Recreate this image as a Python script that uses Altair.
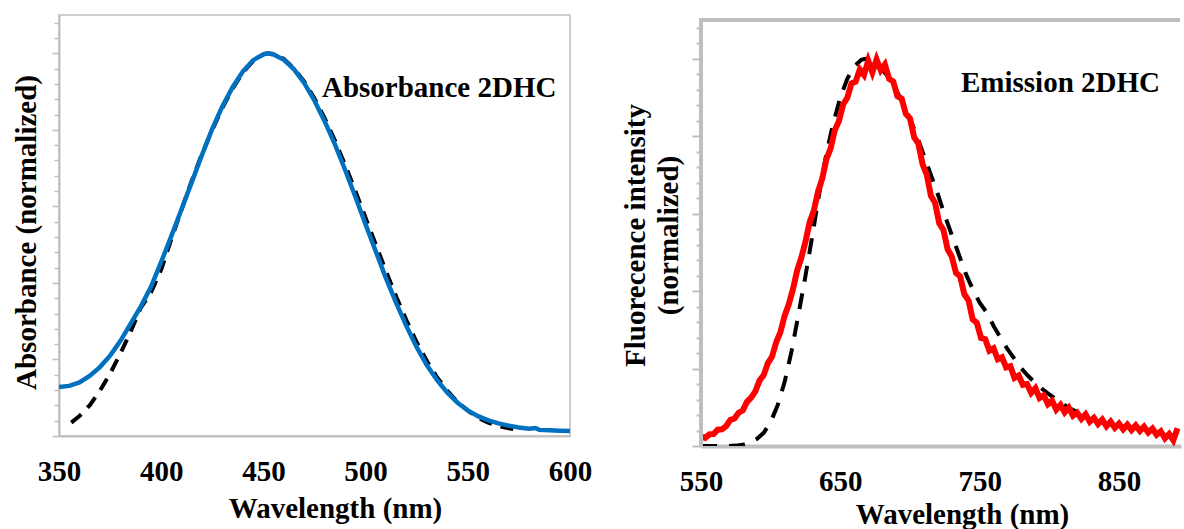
import altair as alt
import pandas as pd

FONT = "Liberation Serif"
GRAY = "#BFBFBF"

# ---------------- Left panel: absorbance ----------------
abs_wl = [350, 355, 360, 365, 370, 375, 380, 385, 390, 395, 400, 405, 410, 415, 420, 425,
          430, 435, 440, 445, 450, 452, 455, 460, 465, 470, 475, 480, 485, 490, 495, 500,
          505, 510, 515, 520, 525, 530, 535, 540, 545, 550, 555, 560, 565, 570, 575, 580,
          583, 585, 590, 595, 600]
abs_val = [0.128, 0.131, 0.140, 0.157, 0.180, 0.210, 0.248, 0.293, 0.338, 0.390, 0.455, 0.523,
           0.593, 0.664, 0.735, 0.803, 0.862, 0.912, 0.953, 0.982, 0.997, 1.000, 0.997, 0.983,
           0.958, 0.922, 0.876, 0.822, 0.762, 0.695, 0.625, 0.553, 0.482, 0.412, 0.347, 0.287,
           0.232, 0.185, 0.146, 0.113, 0.087, 0.067, 0.052, 0.041, 0.033, 0.027, 0.022, 0.019,
           0.021, 0.016, 0.015, 0.014, 0.013]

fitA_wl = [356, 360, 365, 370, 375, 380, 385, 390, 395, 400, 405, 410, 415, 420, 425, 430,
           435, 440, 445, 450, 452, 455, 460, 465, 470, 475, 480, 485, 490, 495, 500, 505,
           510, 515, 520, 525, 530, 535, 540, 545, 550, 555, 560, 565, 570, 575]
fitA_val = [0.035, 0.052, 0.080, 0.118, 0.163, 0.215, 0.272, 0.335, 0.375, 0.435, 0.515, 0.592,
            0.668, 0.738, 0.800, 0.858, 0.908, 0.950, 0.980, 0.997, 1.000, 0.998, 0.985, 0.960,
            0.926, 0.882, 0.830, 0.772, 0.708, 0.640, 0.570, 0.500, 0.430, 0.364, 0.302, 0.245,
            0.196, 0.153, 0.118, 0.089, 0.066, 0.048, 0.035, 0.026, 0.020, 0.016]

# ---------------- Right panel: emission ----------------
em_wl = list(range(550, 893, 3))
em_val = [0.024, 0.021, 0.030, 0.031, 0.042, 0.043, 0.051, 0.067, 0.071, 0.086,
          0.092, 0.114, 0.125, 0.141, 0.169, 0.183, 0.214, 0.231, 0.268, 0.294,
          0.336, 0.366, 0.405, 0.453, 0.486, 0.528, 0.578, 0.608, 0.657, 0.690,
          0.741, 0.768, 0.815, 0.839, 0.882, 0.899, 0.936, 0.941, 0.972, 0.958,
          0.995, 0.965, 0.998, 0.970, 0.985, 0.948, 0.941, 0.903, 0.897, 0.858,
          0.846, 0.797, 0.781, 0.728, 0.701, 0.646, 0.628, 0.575, 0.558, 0.508,
          0.489, 0.447, 0.438, 0.392, 0.376, 0.327, 0.318, 0.279, 0.276, 0.246,
          0.252, 0.224, 0.229, 0.203, 0.206, 0.176, 0.182, 0.158, 0.160, 0.137,
          0.149, 0.124, 0.131, 0.108, 0.117, 0.094, 0.106, 0.087, 0.099, 0.078,
          0.086, 0.070, 0.082, 0.063, 0.073, 0.057, 0.068, 0.051, 0.063, 0.047,
          0.058, 0.043, 0.055, 0.041, 0.053, 0.039, 0.050, 0.035, 0.045, 0.029,
          0.038, 0.020, 0.031, 0.015, 0.046]

fitE_wl = [550, 555, 560, 565, 570, 575, 580, 585, 590, 595, 600, 605, 610, 615, 620, 625,
           630, 635, 640, 645, 650, 655, 660, 665, 668, 670, 675, 680, 685, 690, 695, 700,
           705, 710, 715, 720, 725, 730, 735, 740, 745, 750, 755, 760, 765, 770, 775, 780,
           785, 790, 795, 800, 805, 810, 815, 820, 825]
fitE_val = [0.0, 0.0, 0.0, 0.0, 0.0, 0.001, 0.003, 0.008, 0.018, 0.034, 0.062, 0.105, 0.165,
            0.245, 0.340, 0.440, 0.545, 0.655, 0.755, 0.835, 0.900, 0.948, 0.980, 0.997, 1.000,
            0.998, 0.990, 0.972, 0.950, 0.920, 0.885, 0.845, 0.800, 0.750, 0.700, 0.650, 0.595,
            0.545, 0.495, 0.445, 0.405, 0.370, 0.345, 0.310, 0.280, 0.250, 0.225, 0.200, 0.180,
            0.163, 0.147, 0.133, 0.120, 0.108, 0.097, 0.088, 0.080]

# axis tick values / labels
y_ticks = [0, 0.04, 0.08, 0.12, 0.16, 0.2, 0.24, 0.28, 0.32, 0.36, 0.4, 0.44, 0.48, 0.52,
           0.56, 0.6, 0.64, 0.68, 0.72, 0.76, 0.8, 0.84, 0.88, 0.92, 0.96, 1.0, 1.04, 1.08]
xA_ticks = [350, 400, 450, 500, 550, 600]
xE_ticks = [550, 650, 750, 850]

annA = {"wl": [536], "val": [0.886], "t": ["Absorbance 2DHC"]}
annE = {"wl": [808], "val": [0.915], "t": ["Emission 2DHC"]}


def tick_size(major, minor):
    return {"condition": {"test": "abs(datum.value*5 - round(datum.value*5)) < 0.001",
                          "value": major}, "value": minor}


txt = dict(font=FONT, fontSize=29, fontWeight="bold", color="black")

# ---------- left chart ----------
WL, HL = 511, 421
xA = alt.X("wl:Q", scale=alt.Scale(domain=[350, 600], nice=False, zero=False),
           axis=alt.Axis(values=xA_ticks, ticks=False, tickSize=0, grid=False,
                         domainColor=GRAY, domainWidth=2,
                         labelFont=FONT, labelFontSize=29, labelFontWeight="bold",
                         labelColor="black", labelPadding=21, labelFlush=False,
                         title="Wavelength (nm)", titleFont=FONT, titleFontSize=29,
                         titleFontWeight="bold", titleColor="black",
                         titleX=276, titleY=81, titleAlign="center",
                         titleBaseline="alphabetic"))
yA = alt.Y("val:Q", scale=alt.Scale(domain=[0, 1.1], nice=False, zero=False),
           axis=alt.Axis(values=y_ticks, labels=False, grid=False,
                         domainColor=GRAY, domainWidth=2, tickColor=GRAY, tickWidth=1.5,
                         tickSize=tick_size(7, 5),
                         title="Absorbance (normalized)", titleFont=FONT, titleFontSize=29,
                         titleFontWeight="bold", titleColor="black", titleAngle=270,
                         titleX=-33, titleY=217, titleAlign="center",
                         titleBaseline="middle"))

fitA_line = alt.Chart(pd.DataFrame({"wl": fitA_wl, "val": fitA_val})).mark_line(
    color="black", strokeWidth=4, strokeDash=[13, 9], clip=True).encode(x=xA, y=yA)
abs_line = alt.Chart(pd.DataFrame({"wl": abs_wl, "val": abs_val})).mark_line(
    color="#0070C0", strokeWidth=4.5, clip=True).encode(x=xA, y=yA)
annA_t = alt.Chart(pd.DataFrame(annA)).mark_text(
    align="center", baseline="alphabetic", **txt).encode(x=xA, y=yA, text="t:N")

left = alt.layer(fitA_line, abs_line, annA_t).properties(
    width=WL, height=HL,
    view=alt.ViewBackground(stroke=GRAY, strokeWidth=1.5))

# ---------- right chart ----------
# plot frame starts 5 px below the top of the group; y scale keeps 1.1 at that frame line
WR, HR, TOP = 480, 431, 5
ymaxE = 1.1 * HR / (HR - TOP)
xE = alt.X("wl:Q", scale=alt.Scale(domain=[550, 550 + WR / 1.3933], nice=False, zero=False),
           axis=alt.Axis(values=xE_ticks, ticks=False, tickSize=0, grid=False,
                         domainColor=GRAY, domainWidth=4,
                         labelFont=FONT, labelFontSize=29, labelFontWeight="bold",
                         labelColor="black", labelPadding=21, labelFlush=False,
                         title="Wavelength (nm)", titleFont=FONT, titleFontSize=29,
                         titleFontWeight="bold", titleColor="black",
                         titleX=261, titleY=77, titleAlign="center",
                         titleBaseline="alphabetic"))
yE = alt.Y("val:Q", scale=alt.Scale(domain=[0, ymaxE], nice=False, zero=False),
           axis=alt.Axis(values=y_ticks, labels=False, grid=False, domain=False,
                         tickColor=GRAY, tickWidth=2, tickSize=tick_size(9, 5),
                         title=["Fluorecence intensity", "(normalized)"], titleFont=FONT,
                         titleFontSize=29, titleFontWeight="bold", titleColor="black",
                         titleAngle=270, titleX=-66, titleY=220, titleAlign="center",
                         titleBaseline="middle", titleLineHeight=33.6))

fitE_line = alt.Chart(pd.DataFrame({"wl": fitE_wl, "val": fitE_val})).mark_line(
    color="black", strokeWidth=4, strokeDash=[16, 12], clip=True).encode(x=xE, y=yE)
em_line = alt.Chart(pd.DataFrame({"wl": em_wl, "val": em_val})).mark_line(
    color="#FF0000", strokeWidth=6, clip=True).encode(x=xE, y=yE)
annE_t = alt.Chart(pd.DataFrame(annE)).mark_text(
    align="center", baseline="alphabetic", **txt).encode(x=xE, y=yE, text="t:N")
frame = pd.DataFrame({"a": [0]})
top_border = alt.Chart(frame).mark_rule(color=GRAY, strokeWidth=4).encode(
    x=alt.value(-2), x2=alt.value(WR - 1), y=alt.value(TOP))
left_border = alt.Chart(frame).mark_rule(color=GRAY, strokeWidth=4).encode(
    x=alt.value(0), y=alt.value(TOP - 2), y2=alt.value(HR))

right = alt.layer(fitE_line, em_line, annE_t, top_border, left_border).properties(
    width=WR, height=HR,
    view=alt.ViewBackground(stroke=None))

chart = alt.hconcat(left, right, spacing=28).properties(
    padding={"left": 11, "top": 14, "right": 0, "bottom": 0},
    background="white")

chart.save("out.html", embed_options={"renderer": "svg", "actions": False})
